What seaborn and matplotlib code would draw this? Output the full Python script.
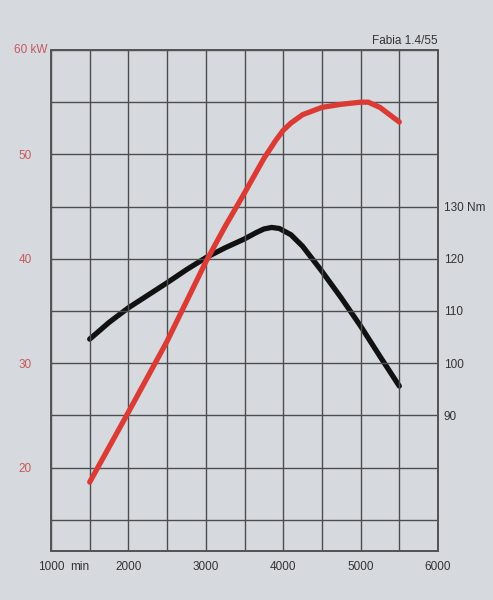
import matplotlib
matplotlib.use('Agg')
import pandas as pd
import matplotlib.pyplot as plt
from matplotlib.ticker import MultipleLocator
import seaborn as sns

# Leistung (kW)
power_rpm = [1500, 2000, 2500, 3000, 3250, 3500, 3750, 3900, 4000, 4100, 4250, 4500, 4750, 5000, 5100, 5250, 5500]
power_kw = [18.6, 25.3, 32.1, 39.7, 43.1, 46.3, 49.6, 51.3, 52.3, 53.0, 53.8, 54.5, 54.8, 55.0, 55.0, 54.5, 53.1]

# Drehmoment (Nm)
torque_rpm = [1500, 1750, 2000, 2250, 2500, 2750, 3000, 3250, 3500, 3650, 3750, 3850, 3950, 4100, 4250, 4500, 4750, 5000, 5250, 5500]
torque_nm = [104.6, 107.8, 110.6, 113.0, 115.4, 117.9, 120.2, 122.1, 123.8, 125.0, 125.7, 126.0, 125.8, 124.6, 122.4, 117.6, 112.5, 107.1, 101.3, 95.6]

x_ticks = [1000, 2000, 3000, 4000, 5000, 6000]
kw_ticks = [20, 30, 40, 50, 60]
kw_labels = ['20', '30', '40', '50', '']
nm_ticks = [90, 100, 110, 120, 130]
nm_labels = ['90', '100', '110', '120', '130 Nm']

bg = '#d6dadf'
grid_c = '#4d4d4d'
red = '#dc3a34'
label_red = '#c65a5a'
text_c = '#333333'

sns.set_style('white', {'axes.facecolor': bg, 'figure.facecolor': bg})
plt.rcParams['font.family'] = ['Liberation Sans', 'DejaVu Sans']

df_p = pd.DataFrame({'rpm': power_rpm, 'kw': power_kw})
df_t = pd.DataFrame({'rpm': torque_rpm, 'nm': torque_nm})

fig = plt.figure(figsize=(4.93, 6.0), dpi=100)
ax = fig.add_axes([51 / 493, 49 / 600, 387 / 493, 501 / 600])
ax2 = ax.twinx()

ax.set_xlim(1000, 6000)
ax.set_ylim(12, 60)
ax2.set_ylim(64, 160)

# grid every 500 rpm / 5 kW
ax.xaxis.set_minor_locator(MultipleLocator(500))
ax.yaxis.set_minor_locator(MultipleLocator(5))
ax.grid(True, which='both', color=grid_c, lw=1.0)
ax.set_axisbelow(True)

ax.set_xticks(x_ticks)
ax.set_xticklabels([str(v) for v in x_ticks])
ax.set_yticks(kw_ticks)
ax.set_yticklabels(kw_labels)
ax.tick_params(axis='x', which='both', length=0, pad=7, labelsize=8.5, labelcolor=text_c)
ax.tick_params(axis='y', which='both', length=0, pad=14, labelsize=8.5, labelcolor=label_red)

ax2.set_yticks(nm_ticks)
ax2.set_yticklabels(nm_labels)
ax2.tick_params(axis='y', length=0, pad=4, labelsize=8.5, labelcolor=text_c)

for a in (ax, ax2):
    for s in a.spines.values():
        s.set_visible(True)
        s.set_color('#555555')
        s.set_linewidth(1.4)

sns.lineplot(data=df_t, x='rpm', y='nm', ax=ax2, color='#111111', lw=3.8)
sns.lineplot(data=df_p, x='rpm', y='kw', ax=ax, color=red, lw=3.8, zorder=5)
ax2.set_zorder(ax.get_zorder() - 1)
ax.patch.set_visible(False)
ax2.patch.set_facecolor(bg)
ax2.patch.set_visible(True)

ax.set_xlabel('')
ax.set_ylabel('')
ax2.set_ylabel('')

ax.text(-0.01, 1.0, '60 kW', transform=ax.transAxes, ha='right', va='center',
        fontsize=8.5, color=label_red)
ax.text(0.075, -0.0195, 'min', transform=ax.transAxes, ha='center', va='top',
        fontsize=8.5, color=text_c)
ax.text(1.0, 1.006, 'Fabia 1.4/55', transform=ax.transAxes, ha='right', va='bottom',
        fontsize=8.5, color=text_c)

fig.savefig('out.png', dpi=100, facecolor=bg)
